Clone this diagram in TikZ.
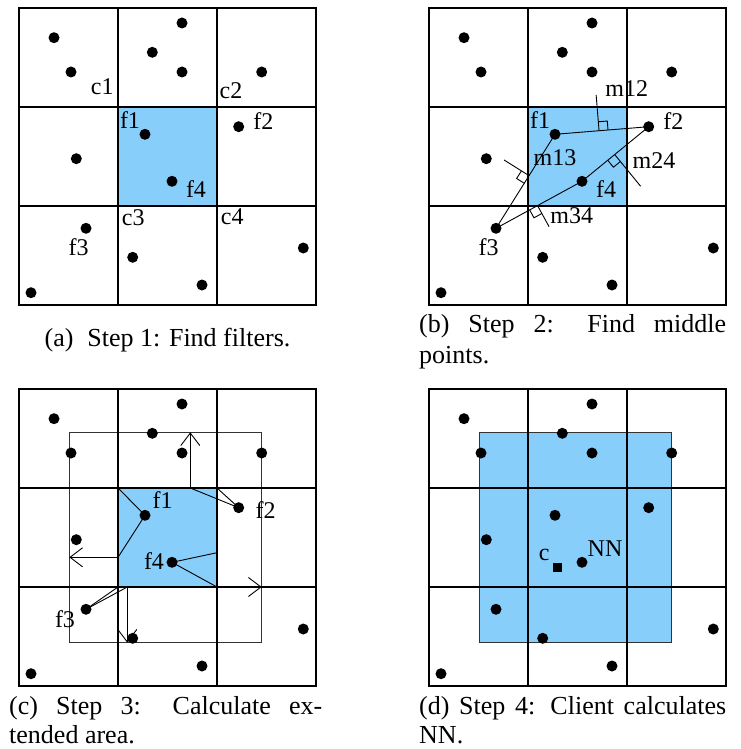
\documentclass[tikz,border=0pt]{standalone}
\usepackage{fontspec}
\setmainfont{Liberation Serif}
\usetikzlibrary{calc,arrows.meta}
\definecolor{skyfill}{HTML}{87CEFA}
\tikzset{
  fdot/.style={circle,fill=black,inner sep=0pt,minimum size=11pt},
  gridline/.style={line width=1.3pt,black},
  conn/.style={line width=0.9pt,black},
  extrect/.style={line width=0.9pt,black!80},
  lbl/.style={inner sep=0pt,anchor=base,font=\fontsize{24}{28}\selectfont},
  captxt/.style={inner sep=0pt,anchor=base west,font=\fontsize{26}{30}\selectfont},
  barb/.style={-{Straight Barb[length=12.5pt,width=19pt,line width=0.9pt]}},
}
\newcommand{\panelgrid}{%
  \draw[gridline] (0,0) rectangle (297,297);
  \foreach \v in {99,198}{\draw[gridline] (\v,0) -- (\v,297); \draw[gridline] (0,\v) -- (297,\v);}
}
\newcommand{\placedots}[1]{%
  \foreach \i/\x/\y in {1/35/29.7, 2/52/64, 3/163/15, 4/133.3/44.3, 5/163/64, 6/242.7/64,
    7/126/126.3, 8/219.7/118.7, 9/57.3/150.7, 10/153/173.3, 11/67/220.3, 12/113.7/249.3,
    13/183/277, 14/284.3/240, 15/12/284.7}{\node[fdot] (#1\i) at (\x,\y) {};}
}
\begin{document}
\begin{tikzpicture}[x=1pt,y=-1pt]
\useasboundingbox (0,0) rectangle (740,749);
% ---------------- panel (a)
\begin{scope}[shift={(19,8)}]
  \fill[skyfill] (99,99) rectangle (198,198);
  \panelgrid
  \placedots{a}
  \node[lbl] (la-c1) at (83.3,87) {c1};
  \node[lbl] (la-c2) at (212,90.7) {c2};
  \node[lbl] (la-f1) at (111,120.3) {f1};
  \node[lbl] (la-f2) at (244.3,121) {f2};
  \node[lbl] (la-f4) at (177,189.7) {f4};
  \node[lbl] (la-c3) at (114.3,217.3) {c3};
  \node[lbl] (la-c4) at (213.3,216) {c4};
  \node[lbl] (la-f3) at (59.7,247) {f3};
\end{scope}
% ---------------- panel (b)
\begin{scope}[shift={(429,8)}]
  \fill[skyfill] (99,99) rectangle (198,198);
  \panelgrid
  \placedots{b}
  \draw[conn] (b7.center) -- (b8.center);
  \draw[conn] (b7.center) -- (b11.center);
  \draw[conn] (b11.center) -- (b10.center);
  \draw[conn] (b10.center) -- (b8.center);
  % m12
  \coordinate (m12f) at ($(b7)!0.47!(b8)$);
  \coordinate (m12e) at ($(m12f)!36pt!90:(b8)$);
  \draw[conn] (m12f) -- (m12e);
  \coordinate (m12u) at ($(m12f)!9pt!(b8)$);
  \coordinate (m12p) at ($(m12f)!9pt!(m12e)$);
  \draw[conn] (m12u) -- ($(m12u)+(m12p)-(m12f)$) -- (m12p);
  % m24
  \coordinate (m24f) at ($(b10)!0.49!(b8)$);
  \coordinate (m24e) at ($(m24f)!41pt!-90:(b8)$);
  \draw[conn] (m24f) -- (m24e);
  \coordinate (m24u) at ($(m24f)!9pt!(b10)$);
  \coordinate (m24p) at ($(m24f)!9pt!(m24e)$);
  \draw[conn] (m24u) -- ($(m24u)+(m24p)-(m24f)$) -- (m24p);
  % m13
  \coordinate (m13f) at ($(b11)!0.56!(b7)$);
  \coordinate (m13e) at ($(m13f)!29.5pt!90:(b7)$);
  \draw[conn] (m13f) -- (m13e);
  \coordinate (m13u) at ($(m13f)!9pt!(b11)$);
  \coordinate (m13p) at ($(m13f)!9pt!(m13e)$);
  \draw[conn] (m13u) -- ($(m13u)+(m13p)-(m13f)$) -- (m13p);
  % m34
  \coordinate (m34f) at ($(b11)!0.483!(b10)$);
  \coordinate (m34e) at ($(m34f)!24pt!-90:(b10)$);
  \draw[conn] (m34f) -- (m34e);
  \coordinate (m34u) at ($(m34f)!9pt!(b11)$);
  \coordinate (m34p) at ($(m34f)!9pt!(m34e)$);
  \draw[conn] (m34u) -- ($(m34u)+(m34p)-(m34f)$) -- (m34p);
  \node[lbl] (lb-f1) at (111,120.3) {f1};
  \node[lbl] (lb-f2) at (244.3,121) {f2};
  \node[lbl] (lb-f4) at (177,189.7) {f4};
  \node[lbl] (lb-f3) at (59.7,247) {f3};
  \node[lbl] (lb-m12) at (197.7,88.7) {m12};
  \node[lbl] (lb-m13) at (126,157.7) {m13};
  \node[lbl] (lb-m24) at (225,160.3) {m24};
  \node[lbl] (lb-m34) at (142.7,215.3) {m34};
\end{scope}
% ---------------- panel (c)
\begin{scope}[shift={(19,389)}]
  \fill[skyfill] (99,99) rectangle (198,198);
  \draw[extrect] (50.3,43.3) rectangle (242.7,253.7);
  \panelgrid
  \placedots{c}
  \coordinate (ctl) at (99,99);
  \coordinate (cl) at (99,168.3);
  \coordinate (clend) at (50.3,168.3);
  \coordinate (cu) at (171.3,99);
  \coordinate (cuend) at (171.3,43.3);
  \coordinate (ctr) at (198,99);
  \coordinate (cr) at (198,163.7);
  \coordinate (cbr) at (198,198);
  \coordinate (cbrend) at (242.7,198);
  \coordinate (cbl) at (99,198);
  \coordinate (cd) at (108.3,198);
  \coordinate (cdend) at (108.3,253.7);
  \draw[conn] (c7.center) -- (ctl);
  \draw[conn] (c7.center) -- (cl);
  \draw[conn] (c8.center) -- (cu);
  \draw[conn] (c8.center) -- (ctr);
  \draw[conn] (c10.center) -- (cr);
  \draw[conn] (c10.center) -- (cbr);
  \draw[conn] (c11.center) -- (cbl);
  \draw[conn] (c11.center) -- (cd);
  \draw[conn,barb] (cl) -- (clend);
  \draw[conn,barb] (cu) -- (cuend);
  \draw[conn,barb] (cbr) -- (cbrend);
  \draw[conn,barb] (cd) -- (cdend);
  \node[lbl] (lc-f1) at (143.7,119.3) {f1};
  \node[lbl] (lc-f2) at (246.7,129.3) {f2};
  \node[lbl] (lc-f4) at (135,180.3) {f4};
  \node[lbl] (lc-f3) at (46,238.3) {f3};
\end{scope}
% ---------------- panel (d)
\begin{scope}[shift={(429,389)}]
  \fill[skyfill] (50.3,43.3) rectangle (242.7,253.7);
  \draw[extrect] (50.3,43.3) rectangle (242.7,253.7);
  \panelgrid
  \placedots{d}
  \node[rectangle,fill=black,inner sep=0pt,minimum size=9pt] (client) at (128.7,178.7) {};
  \node[lbl] (ld-c) at (115.3,171.7) {c};
  \node[lbl] (ld-nn) at (176,167) {NN};
\end{scope}
% ---------------- captions
\node[captxt,anchor=base] (capa) at (167.5,346) {(a)\hspace{14pt}Step 1: Find filters.};
\node[captxt] (capb1) at (419,332) {\makebox[307pt][s]{(b) Step 2: Find middle}};
\node[captxt] (capb2) at (419,363) {points.};
\node[captxt] (capc1) at (9,714) {\makebox[313pt][s]{(c) Step 3: Calculate ex-}};
\node[captxt] (capc2) at (9,743.5) {tended area.};
\node[captxt] (capd1) at (419,714) {\makebox[307pt][s]{(d) Step 4: Client calculates}};
\node[captxt] (capd2) at (419,743.5) {NN.};
\end{tikzpicture}
\end{document}
